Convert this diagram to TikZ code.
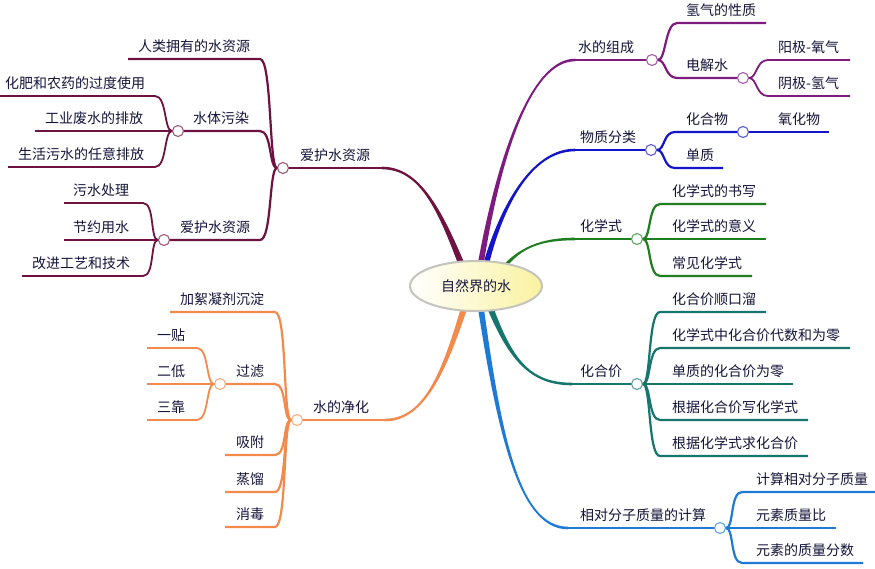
\documentclass[tikz,border=0pt]{standalone}
\usepackage{fontspec}
\newfontfamily\cjk{Noto Sans CJK SC}
\usetikzlibrary{shapes.geometric,calc}
\definecolor{cA}{HTML}{7D1B7E}
\definecolor{cB}{HTML}{1414C8}
\definecolor{cC}{HTML}{1E7D1E}
\definecolor{cD}{HTML}{16766E}
\definecolor{cE}{HTML}{1F7AD6}
\definecolor{cF}{HTML}{6E1242}
\definecolor{cG}{HTML}{F28A4C}
\definecolor{txt}{HTML}{15153A}
\definecolor{rimgray}{HTML}{C4C4BC}
\definecolor{yel}{HTML}{FAF2A0}
\tikzset{
  lbl/.style={anchor=base west, inner sep=0pt, text=txt, font=\cjk\fontsize{14}{14}\selectfont},
  hub/.style={circle, draw=#1!70!white, fill=white, line width=1.1pt, minimum size=11pt, inner sep=0pt},
  lv1/.style={draw=#1, line width=2.6pt},
  lv2/.style={draw=#1, line width=2.2pt},
  lv3/.style={draw=#1, line width=1.8pt},
}
% #1 parent node, #2 name, #3 corner x, #4 y, #5 end x, #6 text x, #7 text, #8 style
\newcommand\kidR[8]{%
  \coordinate (#2c) at (#3,#4);
  \coordinate (#2e) at (#5,#4);
  \node[lbl] (#2) at (#6,{#4-8}) {#7};
  \draw[#8] (#1.east) .. controls +(8,0) and +(-12,0) .. (#2c) -- (#2e);}
\newcommand\kidL[8]{%
  \coordinate (#2c) at (#3,#4);
  \coordinate (#2e) at (#5,#4);
  \node[lbl] (#2) at (#6,{#4-8}) {#7};
  \draw[#8] (#1.west) .. controls +(-8,0) and +(12,0) .. (#2c) -- (#2e);}
% tapered root branch: #1 colour, #2 start, #3 c1, #4 c2, #5 end, #6 half width, #7 sign
\newcommand\taper[7]{%
  \fill[#1] ($(#2)+({-#6},0)$) .. controls ($(#3)+({-0.6*#6},0)$) and ($(#4)+(0,{#7*1.3})$) .. ($(#5)+(0,{#7*1.3})$)
    -- ($(#5)+(0,{-1.3*#7})$) .. controls ($(#4)+(0,{-1.3*#7})$) and ($(#3)+({0.6*#6},0)$) .. ($(#2)+({#6},0)$) -- cycle;}
\begin{document}
\begin{tikzpicture}[x=1pt,y=-1pt]
\fill[white] (0,0) rectangle (875,568);
\useasboundingbox (0,0) rectangle (875,568);

% root start points
\coordinate (rA) at (480,268);
\coordinate (rB) at (485,268);
\coordinate (rC) at (503,268);
\coordinate (rD) at (488,302);
\coordinate (rE) at (480,302);
\coordinate (rF) at (463,268);
\coordinate (rG) at (466,302);
% root corners
\coordinate (A1c) at (575,60);
\coordinate (B1c) at (575,150);
\coordinate (C1c) at (575,239);
\coordinate (D1c) at (572,384);
\coordinate (E1c) at (568,528);
\coordinate (F1c) at (382,168);
\coordinate (G1c) at (385,420);

\taper{cA}{rA}{498,160}{530,60}{A1c}{3}{-1}
\taper{cB}{rB}{500,210}{530,150}{B1c}{3}{-1}
\taper{cC}{rC}{520,248}{540,239}{C1c}{2.6}{-1}
\taper{cD}{rD}{510,360}{530,384}{D1c}{3.4}{1}
\taper{cE}{rE}{500,440}{520,528}{E1c}{3}{1}
\taper{cF}{rF}{440,210}{420,168}{F1c}{3.4}{1}
\taper{cG}{rG}{445,370}{425,420}{G1c}{3.4}{-1}

% first level hubs and labels
\node[hub=cA] (A1h) at (652,60) {};
\node[hub=cB] (B1h) at (651,150) {};
\node[hub=cC] (C1h) at (637,239) {};
\node[hub=cD] (D1h) at (637,384) {};
\node[hub=cE] (E1h) at (720,528) {};
\node[hub=cF] (F1h) at (283,168) {};
\node[hub=cG] (G1h) at (297,420) {};
\draw[lv1=cA] (A1c) -- (A1h);
\draw[lv1=cB] (B1c) -- (B1h);
\draw[lv1=cC] (C1c) -- (C1h);
\draw[lv1=cD] (D1c) -- (D1h);
\draw[lv1=cE] (E1c) -- (E1h);
\draw[lv1=cF] (F1c) -- (F1h);
\draw[lv1=cG] (G1c) -- (G1h);
\node[lbl] (A1) at (578,52) {水的组成};
\node[lbl] (B1) at (580,142) {物质分类};
\node[lbl] (C1) at (580,231) {化学式};
\node[lbl] (D1) at (580,376) {化合价};
\node[lbl] (E1) at (580,520) {相对分子质量的计算};
\node[lbl] (F1) at (300,160) {爱护水资源};
\node[lbl] (G1) at (313,412) {水的净化};

% 水的组成
\kidR{A1h}{A11}{677}{23}{766}{686}{氢气的性质}{lv2=cA}
\kidR{A1h}{A12}{677}{78}{743}{686}{电解水}{lv2=cA}
\node[hub=cA] (A12h) at (A12e) {};
\kidR{A12h}{A121}{768}{60}{850}{778}{阳极-氧气}{lv3=cA}
\kidR{A12h}{A122}{768}{96}{850}{778}{阴极-氢气}{lv3=cA}

% 物质分类
\kidR{B1h}{B11}{675}{132}{743}{686}{化合物}{lv2=cB}
\node[hub=cB] (B11h) at (B11e) {};
\kidR{B11h}{B111}{760}{132}{829}{778}{氧化物}{lv3=cB}
\kidR{B1h}{B12}{675}{168}{723}{686}{单质}{lv2=cB}

% 化学式
\kidR{C1h}{C11}{660}{204}{766}{672}{化学式的书写}{lv2=cC}
\kidR{C1h}{C12}{660}{239}{766}{672}{化学式的意义}{lv2=cC}
\kidR{C1h}{C13}{660}{276}{752}{672}{常见化学式}{lv2=cC}

% 化合价
\kidR{D1h}{D11}{660}{312}{766}{672}{化合价顺口溜}{lv2=cD}
\kidR{D1h}{D12}{660}{348}{850}{672}{化学式中化合价代数和为零}{lv2=cD}
\kidR{D1h}{D13}{660}{384}{793}{672}{单质的化合价为零}{lv2=cD}
\kidR{D1h}{D14}{660}{420}{808}{672}{根据化合价写化学式}{lv2=cD}
\kidR{D1h}{D15}{660}{456}{808}{672}{根据化学式求化合价}{lv2=cD}

% 相对分子质量的计算
\kidR{E1h}{E11}{742}{492}{875}{756}{计算相对分子质量}{lv2=cE}
\kidR{E1h}{E12}{742}{528}{836}{756}{元素质量比}{lv2=cE}
\kidR{E1h}{E13}{742}{563}{863}{756}{元素的质量分数}{lv2=cE}

% 爱护水资源
\kidL{F1h}{F11}{260}{59}{128}{138}{人类拥有的水资源}{lv2=cF}
\kidL{F1h}{F12}{260}{131}{178}{193}{水体污染}{lv2=cF}
\node[hub=cF] (F12h) at (F12e) {};
\kidL{F1h}{F13}{260}{240}{164}{180}{爱护水资源}{lv2=cF}
\node[hub=cF] (F13h) at (F13e) {};
\kidL{F12h}{F121}{155}{96}{0}{5}{化肥和农药的过度使用}{lv3=cF}
\kidL{F12h}{F122}{155}{131}{35}{45}{工业废水的排放}{lv3=cF}
\kidL{F12h}{F123}{155}{167}{8}{18}{生活污水的任意排放}{lv3=cF}
\kidL{F13h}{F131}{143}{203}{64}{73}{污水处理}{lv3=cF}
\kidL{F13h}{F132}{143}{240}{64}{73}{节约用水}{lv3=cF}
\kidL{F13h}{F133}{143}{276}{22}{32}{改进工艺和技术}{lv3=cF}

% 水的净化
\kidL{G1h}{G11}{275}{312}{170}{180}{加絮凝剂沉淀}{lv2=cG}
\kidL{G1h}{G12}{275}{384}{220}{236}{过滤}{lv2=cG}
\node[hub=cG] (G12h) at (G12e) {};
\kidL{G1h}{G13}{275}{455}{225}{236}{吸附}{lv2=cG}
\kidL{G1h}{G14}{275}{492}{225}{236}{蒸馏}{lv2=cG}
\kidL{G1h}{G15}{275}{527}{225}{236}{消毒}{lv2=cG}
\kidL{G12h}{G121}{197}{348}{147}{157}{一贴}{lv3=cG}
\kidL{G12h}{G122}{197}{384}{147}{157}{二低}{lv3=cG}
\kidL{G12h}{G123}{197}{420}{147}{157}{三靠}{lv3=cG}

% centre
\node[ellipse, draw=rimgray, line width=2pt, left color=white, right color=yel,
      minimum width=132pt, minimum height=50pt, inner sep=0pt, text=txt,
      font=\cjk\fontsize{14}{14}\selectfont] (root) at (476,286) {自然界的水};
\end{tikzpicture}
\end{document}
